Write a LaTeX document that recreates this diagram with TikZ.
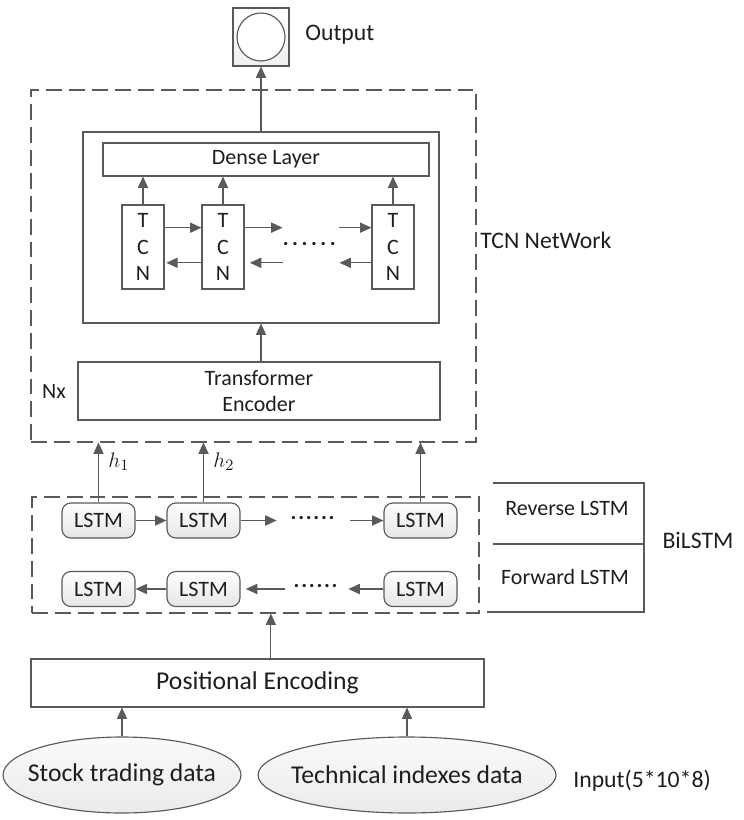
\documentclass[tikz,border=0pt]{standalone}
\usepackage{fontspec}
\setmainfont{Carlito}
\usetikzlibrary{arrows.meta,shapes.geometric}
\definecolor{lc}{RGB}{90,90,90}
\definecolor{txt}{RGB}{30,30,30}
\newcommand\smallfnt{\fontsize{12.5}{15}\selectfont}
\newcommand\midfnt{\fontsize{13.5}{16}\selectfont}
\newcommand\bigfnt{\fontsize{14.6}{17}\selectfont}

\begin{document}
\begin{tikzpicture}[x=0.02cm,y=-0.02cm,
    line/.style={draw=lc,line width=0.65pt},
    arr/.style={lc,line width=0.65pt,-{Triangle[length=6.5pt,width=5.8pt]}},
    dashbox/.style={draw=lc,line width=0.65pt,dash pattern=on 9pt off 4pt,inner sep=0pt},
    box/.style={draw=lc,line width=0.65pt,fill=white,inner sep=0pt,text=txt,font=\smallfnt,align=center},
    tcnbox/.style={box,minimum width=0.84cm,minimum height=1.68cm},
    lstm/.style={box,rounded corners=5pt,top color=white,bottom color=gray!20,minimum width=1.46cm,minimum height=0.7cm},
    data/.style={ellipse,draw=lc,line width=0.65pt,inner sep=0pt,top color=gray!4,bottom color=gray!16,text=txt,font=\bigfnt,minimum height=1.52cm},
    dots/.style={inner sep=0pt,text=txt,font=\smallfnt},
    lbl/.style={inner sep=0pt,text=txt,font=\midfnt}]
    \useasboundingbox (0,0) rectangle (743,820);
    \node[box,minimum width=1.12cm,minimum height=1.16cm,top color=white,bottom color=gray!12] (outbox) at (261,37) {};
    \node[circle,draw=lc,line width=0.65pt,fill=white,minimum size=0.96cm] (outcirc) at (outbox) {};
    \node[lbl,anchor=west] (outtext) at (305,35) {Output};
    \node[dashbox,minimum width=8.9cm,minimum height=7.04cm] (tcnframe) at (253.5,266) {};
    \node[box,minimum width=7.12cm,minimum height=3.82cm] (tcnin) at (261,227.5) {};
    \node[box,minimum width=6.52cm,minimum height=0.66cm] (dense) at (266,159.5) {Dense Layer};
    \node[tcnbox] (tcn1) at (143,247) {T\\C\\N};
    \node[tcnbox] (tcn2) at (223,247) {T\\C\\N};
    \node[tcnbox] (tcn3) at (393,247) {T\\C\\N};
    \node[dots,minimum width=0.96cm] (tcndots) at (311,244) {\addfontfeatures{LetterSpace=16}\textbf{......}};
    \foreach \t in {tcn1,tcn2,tcn3}
        \draw[arr] (\t.north) -- (\t.north |- dense.south);
    \draw[arr] ([yshift=11pt]tcn1.east) -- ([yshift=11pt]tcn2.west);
    \draw[arr] ([yshift=11pt]tcn2.east) -- ([yshift=11pt]tcn2.east -| tcndots.west);
    \draw[arr] ([yshift=11pt]tcn3.west -| tcndots.east) -- ([yshift=11pt]tcn3.west);
    \draw[arr] ([yshift=-9pt]tcn2.west) -- ([yshift=-9pt,xshift=1pt]tcn1.east);
    \draw[arr] ([yshift=-9pt]tcn2.east -| tcndots.west) -- ([yshift=-9pt,xshift=3pt]tcn2.east);
    \draw[arr] ([yshift=-9pt]tcn3.west) -- ([yshift=-9pt]tcn3.west -| tcndots.east);
    \draw[arr] (tcnin.north) -- (outbox.south);
    \node[lbl,anchor=west] (tcnname) at (480,240) {TCN NetWork};
    \node[box,minimum width=7.24cm,minimum height=1.16cm,font=\fontsize{12.5}{14.7}\selectfont] (trans) at (259,391) {Transformer\\Encoder};
    \draw[arr] (tcnin.south |- trans.north) -- (tcnin.south);
    \node[dots] (nx) at (54,391) {Nx};
    \node[dashbox,minimum width=8.94cm,minimum height=2.32cm] (biframe) at (255.5,555) {};
    \node[lstm] (r1) at (98.5,520.5) {LSTM};
    \node[lstm] (r2) at (203.5,520.5) {LSTM};
    \node[lstm] (r3) at (420.5,520.5) {LSTM};
    \node[lstm] (f1) at (98.5,589) {LSTM};
    \node[lstm] (f2) at (203.5,589) {LSTM};
    \node[lstm] (f3) at (420.5,589) {LSTM};
    \node[dots,minimum width=1.46cm] (rdots) at (313.5,518) {\addfontfeatures{LetterSpace=8}\textbf{......}};
    \node[dots,minimum width=1.26cm] (fdots) at (316.5,586) {\addfontfeatures{LetterSpace=8}\textbf{......}};
    \draw[arr] (r1) -- (r2);
    \draw[arr] (r2.east) -- (rdots.west |- r2.east);
    \draw[arr] (rdots.east |- r3.west) -- (r3.west);
    \draw[arr] (f2) -- (f1);
    \draw[arr] (fdots.west |- f2.east) -- ([xshift=3pt]f2.east);
    \draw[arr] (f3.west) -- (fdots.east |- f3.west);
    \draw[arr] (r1.north) -- (r1.north |- tcnframe.south) node[pos=0.68,right=2pt,text=txt,font=\smallfnt] {$h_1$};
    \draw[arr] (r2.north) -- (r2.north |- tcnframe.south) node[pos=0.68,right=2pt,text=txt,font=\smallfnt] {$h_2$};
    \draw[arr] (r3.north) -- (r3.north |- tcnframe.south);
    \draw[line] (493,483) -- (644,483) -- (644,612) -- (487,612);
    \draw[line] (493,544) -- (644,544);
    \node[dots] (revtext) at (567,508) {Reverse LSTM};
    \node[dots] (fwdtext) at (565,577) {Forward LSTM};
    \node[lbl] (bitext) at (698,540) {BiLSTM};
    \node[box,minimum width=9.06cm,minimum height=0.96cm,font=\bigfnt] (pe) at (257.5,683) {Positional Encoding};
    \draw[arr] ([xshift=7.6pt]pe.north) -- ([xshift=7.6pt]pe.north |- biframe.south);
    \node[data,minimum width=4.76cm] (stock) at (122,775) {\makebox[0pt]{Stock trading data}};
    \node[data,minimum width=5.96cm] (tech) at (407,775) {\makebox[0pt]{Technical indexes data}};
    \draw[arr] (stock.north) -- (stock.north |- pe.south);
    \draw[arr] (tech.north) -- (tech.north |- pe.south);
    \node[lbl,anchor=west] (inputtext) at (573,781) {Input(5*10*8)};
\end{tikzpicture}
\end{document}
